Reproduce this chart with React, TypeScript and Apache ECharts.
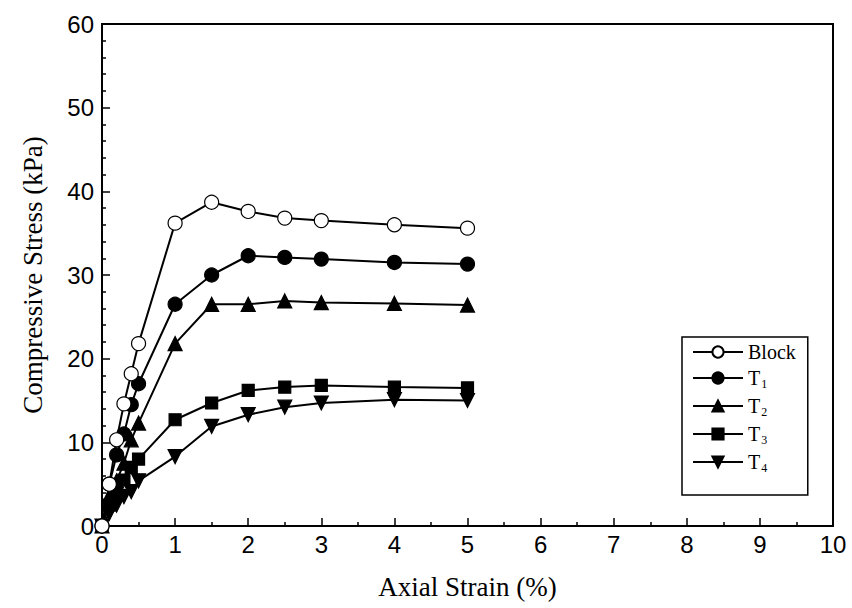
import React, { useEffect, useRef } from "react";
import * as echarts from "echarts";

const strain = [0, 0.1, 0.2, 0.3, 0.4, 0.5, 1, 1.5, 2, 2.5, 3, 4, 5];
const block = [0, 5.0, 10.3, 14.6, 18.2, 21.8, 36.2, 38.7, 37.6, 36.8, 36.5, 36.0, 35.6];
const t1 = [0, 5.0, 8.5, 11.0, 14.5, 17.0, 26.5, 30.0, 32.3, 32.1, 31.9, 31.5, 31.3];
const t2 = [0, 3.6, 5.4, 7.5, 10.3, 12.3, 21.8, 26.5, 26.5, 26.9, 26.7, 26.6, 26.4];
const t3 = [0, 2.5, 4.0, 5.5, 7.0, 8.0, 12.7, 14.7, 16.2, 16.6, 16.8, 16.6, 16.5];
const t4 = [0, 1.5, 2.5, 3.5, 4.1, 5.4, 8.3, 11.9, 13.3, 14.2, 14.7, 15.1, 15.0];

const seriesNames = ["Block", "T1", "T2", "T3", "T4"];
const seriesValues = [block, t1, t2, t3, t4];
const symbols = [
  "circle",
  "circle",
  "triangle",
  "rect",
  "path://M0,0 L10,0 L5,9 Z",
];
const symbolSizes = [14, 14, 14, 12, 14];
const fills = ["#ffffff", "#000000", "#000000", "#000000", "#000000"];

export default function App() {
  const ref = useRef<HTMLDivElement>(null);
  useEffect(() => {
    if (!ref.current) return;
    const chart = echarts.init(ref.current, null, { renderer: "svg" });
    const series = seriesNames.map((name, i) => ({
      name,
      type: "line",
      data: strain.map((x, j) => [x, seriesValues[i][j]]),
      symbol: symbols[i],
      symbolSize: symbolSizes[i],
      showAllSymbol: true,
      lineStyle: { color: "#000", width: 2 },
      itemStyle: { color: fills[i], borderColor: "#000", borderWidth: 1.2 },
      z: 10 - i,
    }));
    chart.setOption({
      animation: false,
      backgroundColor: "#fff",
      grid: {
        left: 102,
        top: 24,
        right: 19,
        bottom: 82,
        show: true,
        borderColor: "#000",
        borderWidth: 2,
        backgroundColor: "transparent",
      },
      legend: {
        orient: "vertical",
        left: 682,
        top: 337,
        width: 123,
        padding: [5, 12, 21, 10],
        itemGap: 6,
        itemWidth: 50,
        itemHeight: 14,
        borderColor: "#000",
        borderWidth: 1.5,
        data: seriesNames,
        formatter: (name: string) =>
          name === "Block" ? name : `T{s|${name.slice(1)}}`,
        textStyle: {
          fontFamily: "Liberation Serif",
          fontSize: 20,
          color: "#000",
          rich: {
            s: {
              fontFamily: "Liberation Serif",
              fontSize: 12,
              color: "#000",
              padding: [12, 0, 0, 1],
            },
          },
        },
      },
      xAxis: {
        type: "value",
        min: 0,
        max: 10,
        interval: 1,
        name: "Axial Strain (%)",
        nameLocation: "middle",
        nameGap: 47,
        nameTextStyle: { fontFamily: "Liberation Serif", fontSize: 27, color: "#000" },
        axisLine: { show: true, lineStyle: { color: "#000", width: 2 } },
        axisTick: { show: true, inside: true, length: 8, lineStyle: { color: "#000", width: 1.5 } },
        minorTick: { show: true, splitNumber: 2, length: 4, lineStyle: { color: "#000", width: 1.5 } },
        axisLabel: { fontFamily: "Liberation Sans", fontSize: 24, color: "#000", margin: 6 },
        splitLine: { show: false },
      },
      yAxis: {
        type: "value",
        min: 0,
        max: 60,
        interval: 10,
        name: "Compressive Stress (kPa)",
        nameLocation: "middle",
        nameGap: 56,
        nameTextStyle: { fontFamily: "Liberation Serif", fontSize: 27, color: "#000" },
        axisLine: { show: true, lineStyle: { color: "#000", width: 2 } },
        axisTick: { show: true, inside: true, length: 8, lineStyle: { color: "#000", width: 1.5 } },
        minorTick: { show: true, splitNumber: 5, length: 4, lineStyle: { color: "#000", width: 1.5 } },
        axisLabel: { fontFamily: "Liberation Sans", fontSize: 24, color: "#000", margin: 8 },
        splitLine: { show: false },
      },
      series,
    });
    return () => chart.dispose();
  }, []);
  return <div ref={ref} style={{ width: 852, height: 608, position: "absolute", left: 0, top: 0 }} />;
}
